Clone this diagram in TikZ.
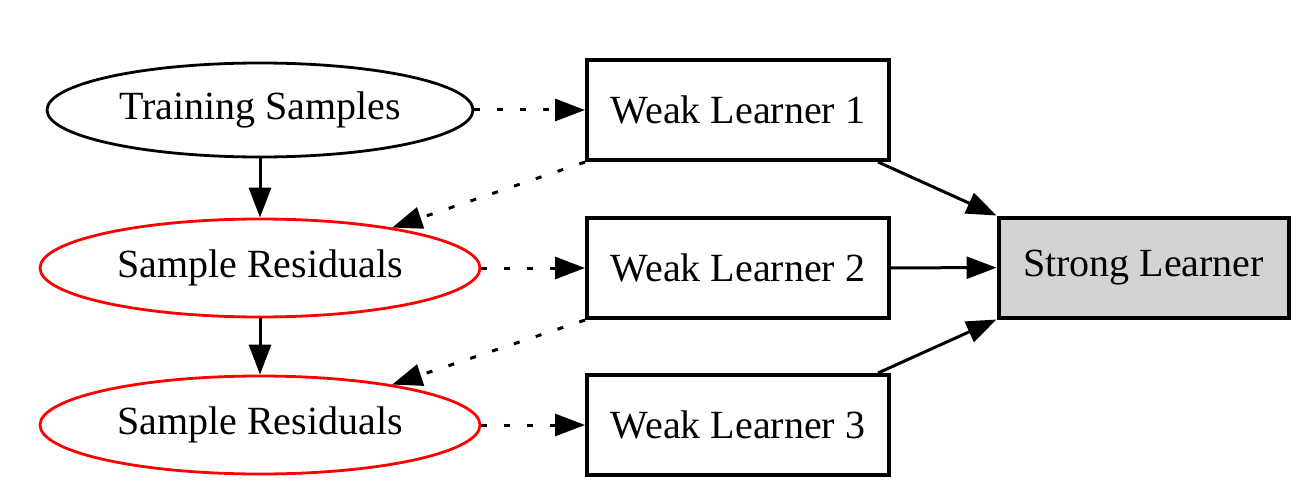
\documentclass[tikz,border=0pt]{standalone}
\usepackage{fontspec}
\setmainfont{Liberation Serif}
\usetikzlibrary{arrows.meta,shapes.geometric}
\definecolor{lgray}{HTML}{D3D3D3}
\begin{document}
\begin{tikzpicture}[x=1pt,y=-1pt,
  font=\fontsize{40}{48}\selectfont,
  ell/.style={ellipse, draw, line width=2.8pt, inner sep=0pt, minimum width=426pt, minimum height=94pt},
  rell/.style={ell, draw=red, minimum width=440pt, minimum height=98pt},
  box/.style={rectangle, draw, line width=4pt, inner sep=0pt, minimum width=302pt, minimum height=100pt},
  arr/.style={-{Triangle[length=30pt,width=22pt]}, line width=3pt},
  dotarr/.style={arr, dash pattern=on 6pt off 17pt}]
\useasboundingbox (0,0) rectangle (1311,500);
\node[ell] (ts) at (260,110) {Training Samples};
\node[rell] (sr1) at (260,268) {Sample Residuals};
\node[rell] (sr2) at (260,425) {Sample Residuals};
\node[box] (w1) at (738,110) {Weak Learner 1};
\node[box] (w2) at (738,268) {Weak Learner 2};
\node[box] (w3) at (738,425) {Weak Learner 3};
\node[box, fill=lgray, minimum width=290pt] (sl) at (1143.5,267.5) {Strong Learner};
\draw[dotarr] (ts) -- (w1);
\draw[arr] (ts) -- (sr1);
\draw[dotarr] (w1.south west) -- (sr1.17);
\draw[dotarr] (sr1) -- (w2);
\draw[arr] (sr1) -- (sr2);
\draw[dotarr] (w2.south west) -- (sr2.17);
\draw[dotarr] (sr2) -- (w3);
\draw[arr] ([xshift=-13pt]w1.south east) -- (sl.north west);
\draw[arr] (w2) -- (sl);
\draw[arr] ([xshift=-13pt]w3.north east) -- (sl.south west);
\end{tikzpicture}
\end{document}
